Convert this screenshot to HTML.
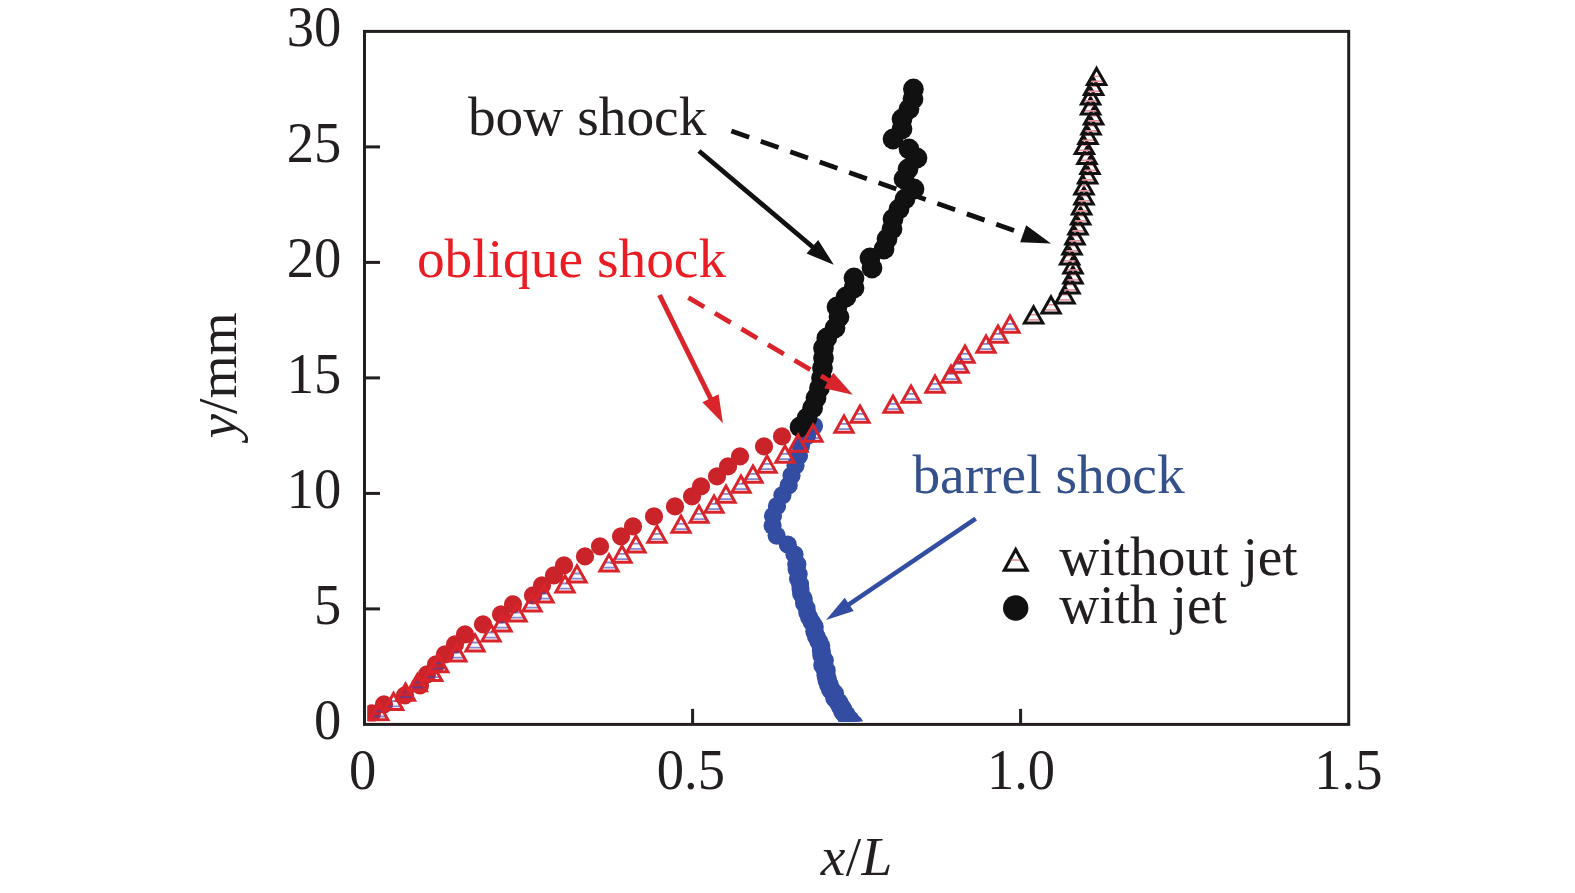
<!DOCTYPE html>
<html><head><meta charset="utf-8"><title>chart</title>
<style>
html,body{margin:0;padding:0;background:#fff;}
body{width:1575px;height:893px;position:relative;overflow:hidden;font-family:"Liberation Serif",serif;}
</style></head><body>
<svg width="1575" height="893" viewBox="0 0 1575 893" style="position:absolute;left:0;top:0"><defs><clipPath id="pcb"><rect x="367.2" y="31.4" width="981.5" height="690.2"/></clipPath><clipPath id="pc"><rect x="367.2" y="31.4" width="981.5" height="690.1"/></clipPath></defs><rect x="0" y="0" width="1575" height="893" fill="#fff"/><g clip-path="url(#pc)"><g fill="#334DA3" clip-path="url(#pcb)"><circle cx="814.0" cy="426.0" r="9.1"/><circle cx="807.0" cy="436.0" r="9.1"/><circle cx="801.0" cy="445.8" r="9.1"/><circle cx="799.0" cy="455.7" r="9.1"/><circle cx="795.5" cy="465.6" r="9.1"/><circle cx="791.5" cy="475.5" r="9.1"/><circle cx="788.7" cy="485.4" r="9.1"/><circle cx="782.4" cy="495.2" r="9.1"/><circle cx="777.0" cy="506.0" r="9.1"/><circle cx="773.0" cy="515.9" r="9.1"/><circle cx="772.6" cy="525.7" r="9.1"/><circle cx="776.6" cy="535.6" r="9.1"/><circle cx="787.8" cy="544.6" r="9.1"/><circle cx="794.5" cy="554.4" r="9.1"/><circle cx="797.3" cy="564.3" r="9.1"/><circle cx="796.2" cy="564.3" r="9.00"/><circle cx="796.6" cy="569.2" r="9.00"/><circle cx="798.7" cy="574.2" r="9.00"/><circle cx="798.0" cy="579.1" r="9.00"/><circle cx="800.1" cy="584.0" r="9.00"/><circle cx="800.5" cy="589.0" r="9.00"/><circle cx="801.1" cy="593.8" r="9.00"/><circle cx="803.7" cy="598.5" r="9.00"/><circle cx="804.0" cy="603.3" r="9.00"/><circle cx="806.6" cy="608.0" r="9.00"/><circle cx="807.3" cy="612.8" r="9.03"/><circle cx="809.2" cy="617.4" r="9.08"/><circle cx="811.8" cy="622.1" r="9.14"/><circle cx="814.6" cy="626.8" r="9.19"/><circle cx="814.5" cy="631.5" r="9.25"/><circle cx="816.2" cy="636.3" r="9.30"/><circle cx="818.6" cy="641.1" r="9.35"/><circle cx="820.9" cy="645.8" r="9.41"/><circle cx="821.3" cy="650.7" r="9.46"/><circle cx="821.8" cy="655.6" r="9.52"/><circle cx="824.3" cy="660.5" r="9.58"/><circle cx="822.9" cy="665.4" r="9.63"/><circle cx="826.0" cy="670.3" r="9.69"/><circle cx="826.1" cy="675.0" r="9.74"/><circle cx="827.2" cy="679.8" r="9.80"/><circle cx="828.7" cy="684.5" r="9.80"/><circle cx="830.7" cy="689.3" r="9.80"/><circle cx="834.3" cy="693.7" r="9.80"/><circle cx="835.0" cy="698.1" r="9.80"/><circle cx="838.5" cy="702.5" r="9.80"/><circle cx="841.0" cy="706.9" r="9.80"/><circle cx="842.9" cy="711.2" r="9.80"/><circle cx="846.1" cy="715.3" r="9.80"/><circle cx="847.7" cy="719.5" r="9.80"/><circle cx="850.1" cy="723.8" r="9.80"/><circle cx="843" cy="710" r="9.7"/><circle cx="846.5" cy="716" r="9.7"/><circle cx="850" cy="720" r="9.7"/><circle cx="853.5" cy="724" r="9.7"/></g><g fill="#CA242A"><circle cx="372" cy="713.4" r="9.1"/><circle cx="384" cy="704.4" r="9.1"/><circle cx="405" cy="695.4" r="9.1"/><circle cx="420" cy="685.4" r="9.1"/><circle cx="427" cy="674.4" r="9.1"/><circle cx="436" cy="664.4" r="9.1"/><circle cx="445" cy="654.4" r="9.1"/><circle cx="455" cy="644.4" r="9.1"/><circle cx="465" cy="634.4" r="9.1"/><circle cx="483" cy="624.4" r="9.1"/><circle cx="501" cy="614.4" r="9.1"/><circle cx="513" cy="604.4" r="9.1"/><circle cx="533" cy="595.4" r="9.1"/><circle cx="542" cy="585.4" r="9.1"/><circle cx="554" cy="575.4" r="9.1"/><circle cx="564" cy="565.4" r="9.1"/><circle cx="585" cy="556.4" r="9.1"/><circle cx="600" cy="546.4" r="9.1"/><circle cx="621" cy="536.4" r="9.1"/><circle cx="633" cy="526.4" r="9.1"/><circle cx="654" cy="516.4" r="9.1"/><circle cx="675" cy="506.4" r="9.1"/><circle cx="692" cy="496.4" r="9.1"/><circle cx="701" cy="486.4" r="9.1"/><circle cx="717" cy="476.4" r="9.1"/><circle cx="728" cy="466.4" r="9.1"/><circle cx="740" cy="456.4" r="9.1"/><circle cx="764" cy="446.4" r="9.1"/><circle cx="782" cy="436.4" r="9.1"/></g><g fill="#111111"><circle cx="913.4" cy="89" r="10.4"/><circle cx="913" cy="99" r="10.4"/><circle cx="909" cy="109" r="10.4"/><circle cx="902" cy="119" r="10.4"/><circle cx="902" cy="129" r="10.4"/><circle cx="893" cy="139" r="10.4"/><circle cx="909" cy="149" r="10.4"/><circle cx="917" cy="158" r="10.4"/><circle cx="908" cy="169" r="10.4"/><circle cx="904" cy="179" r="10.4"/><circle cx="914" cy="189" r="10.4"/><circle cx="905" cy="199" r="10.4"/><circle cx="899" cy="209" r="10.4"/><circle cx="893" cy="219" r="10.4"/><circle cx="892" cy="229" r="10.4"/><circle cx="887" cy="239" r="10.4"/><circle cx="884" cy="249" r="10.4"/><circle cx="870" cy="258" r="10.4"/><circle cx="872" cy="268" r="10.4"/><circle cx="854" cy="278" r="10.4"/><circle cx="854" cy="288" r="10.4"/><circle cx="846" cy="297" r="10.4"/><circle cx="837" cy="307" r="10.4"/><circle cx="839" cy="317" r="10.4"/><circle cx="835" cy="328" r="10.4"/><circle cx="826.8" cy="338" r="10.4"/><circle cx="823.5" cy="348" r="10.4"/><circle cx="823.5" cy="358" r="10.4"/><circle cx="822.5" cy="368" r="10.4"/><circle cx="821.5" cy="378" r="10.4"/><circle cx="819.5" cy="388" r="10.4"/><circle cx="816" cy="398" r="10.4"/><circle cx="812.6" cy="408" r="10.4"/><circle cx="807" cy="418" r="10.4"/><circle cx="800" cy="427" r="10.4"/></g><line x1="375.2" y1="711.3" x2="382.4" y2="711.3" stroke="rgba(58,68,182,0.62)" stroke-width="1.80"/><line x1="372.0" y1="716.5" x2="385.6" y2="716.5" stroke="rgba(58,68,182,0.62)" stroke-width="1.80"/><polygon points="378.8,703.5 387.9,719.7 369.7,719.7" fill="none" stroke="#DA242B" stroke-width="3.00" stroke-linejoin="miter"/><line x1="390.0" y1="701.2" x2="397.2" y2="701.2" stroke="rgba(58,68,182,0.62)" stroke-width="1.80"/><line x1="386.8" y1="706.4" x2="400.4" y2="706.4" stroke="rgba(58,68,182,0.62)" stroke-width="1.80"/><polygon points="393.6,693.4 402.8,709.6 384.5,709.6" fill="none" stroke="#DA242B" stroke-width="3.00" stroke-linejoin="miter"/><line x1="401.9" y1="691.9" x2="409.1" y2="691.9" stroke="rgba(58,68,182,0.62)" stroke-width="1.80"/><line x1="398.7" y1="697.1" x2="412.3" y2="697.1" stroke="rgba(58,68,182,0.62)" stroke-width="1.80"/><polygon points="405.5,684.1 414.6,700.3 396.4,700.3" fill="none" stroke="#DA242B" stroke-width="3.00" stroke-linejoin="miter"/><line x1="413.8" y1="682.3" x2="421.0" y2="682.3" stroke="rgba(58,68,182,0.62)" stroke-width="1.80"/><line x1="410.6" y1="687.5" x2="424.2" y2="687.5" stroke="rgba(58,68,182,0.62)" stroke-width="1.80"/><polygon points="417.4,674.5 426.5,690.7 408.2,690.7" fill="none" stroke="#DA242B" stroke-width="3.00" stroke-linejoin="miter"/><line x1="429.0" y1="672.0" x2="436.2" y2="672.0" stroke="rgba(58,68,182,0.62)" stroke-width="1.80"/><line x1="425.8" y1="677.2" x2="439.4" y2="677.2" stroke="rgba(58,68,182,0.62)" stroke-width="1.80"/><polygon points="432.6,664.2 441.8,680.4 423.5,680.4" fill="none" stroke="#DA242B" stroke-width="3.00" stroke-linejoin="miter"/><line x1="435.0" y1="663.4" x2="442.2" y2="663.4" stroke="rgba(58,68,182,0.62)" stroke-width="1.80"/><line x1="431.8" y1="668.6" x2="445.4" y2="668.6" stroke="rgba(58,68,182,0.62)" stroke-width="1.80"/><polygon points="438.6,655.6 447.8,671.8 429.5,671.8" fill="none" stroke="#DA242B" stroke-width="3.00" stroke-linejoin="miter"/><line x1="453.3" y1="652.5" x2="460.5" y2="652.5" stroke="rgba(58,68,182,0.62)" stroke-width="1.80"/><line x1="450.1" y1="657.7" x2="463.7" y2="657.7" stroke="rgba(58,68,182,0.62)" stroke-width="1.80"/><polygon points="456.9,644.7 466.0,660.9 447.8,660.9" fill="none" stroke="#DA242B" stroke-width="3.00" stroke-linejoin="miter"/><line x1="471.4" y1="642.5" x2="478.6" y2="642.5" stroke="rgba(58,68,182,0.62)" stroke-width="1.80"/><line x1="468.2" y1="647.7" x2="481.8" y2="647.7" stroke="rgba(58,68,182,0.62)" stroke-width="1.80"/><polygon points="475.0,634.7 484.1,650.9 465.9,650.9" fill="none" stroke="#DA242B" stroke-width="3.00" stroke-linejoin="miter"/><line x1="487.4" y1="632.5" x2="494.6" y2="632.5" stroke="rgba(58,68,182,0.62)" stroke-width="1.80"/><line x1="484.2" y1="637.7" x2="497.8" y2="637.7" stroke="rgba(58,68,182,0.62)" stroke-width="1.80"/><polygon points="491.0,624.7 500.1,640.9 481.9,640.9" fill="none" stroke="#DA242B" stroke-width="3.00" stroke-linejoin="miter"/><line x1="498.4" y1="622.5" x2="505.6" y2="622.5" stroke="rgba(58,68,182,0.62)" stroke-width="1.80"/><line x1="495.2" y1="627.7" x2="508.8" y2="627.7" stroke="rgba(58,68,182,0.62)" stroke-width="1.80"/><polygon points="502.0,614.7 511.1,630.9 492.9,630.9" fill="none" stroke="#DA242B" stroke-width="3.00" stroke-linejoin="miter"/><line x1="513.4" y1="612.5" x2="520.6" y2="612.5" stroke="rgba(58,68,182,0.62)" stroke-width="1.80"/><line x1="510.2" y1="617.7" x2="523.8" y2="617.7" stroke="rgba(58,68,182,0.62)" stroke-width="1.80"/><polygon points="517.0,604.7 526.1,620.9 507.9,620.9" fill="none" stroke="#DA242B" stroke-width="3.00" stroke-linejoin="miter"/><line x1="528.4" y1="602.5" x2="535.6" y2="602.5" stroke="rgba(58,68,182,0.62)" stroke-width="1.80"/><line x1="525.2" y1="607.7" x2="538.8" y2="607.7" stroke="rgba(58,68,182,0.62)" stroke-width="1.80"/><polygon points="532.0,594.7 541.1,610.9 522.9,610.9" fill="none" stroke="#DA242B" stroke-width="3.00" stroke-linejoin="miter"/><line x1="540.4" y1="593.5" x2="547.6" y2="593.5" stroke="rgba(58,68,182,0.62)" stroke-width="1.80"/><line x1="537.2" y1="598.7" x2="550.8" y2="598.7" stroke="rgba(58,68,182,0.62)" stroke-width="1.80"/><polygon points="544.0,585.7 553.1,601.9 534.9,601.9" fill="none" stroke="#DA242B" stroke-width="3.00" stroke-linejoin="miter"/><line x1="561.4" y1="583.5" x2="568.6" y2="583.5" stroke="rgba(58,68,182,0.62)" stroke-width="1.80"/><line x1="558.2" y1="588.7" x2="571.8" y2="588.7" stroke="rgba(58,68,182,0.62)" stroke-width="1.80"/><polygon points="565.0,575.7 574.1,591.9 555.9,591.9" fill="none" stroke="#DA242B" stroke-width="3.00" stroke-linejoin="miter"/><line x1="573.4" y1="573.5" x2="580.6" y2="573.5" stroke="rgba(58,68,182,0.62)" stroke-width="1.80"/><line x1="570.2" y1="578.7" x2="583.8" y2="578.7" stroke="rgba(58,68,182,0.62)" stroke-width="1.80"/><polygon points="577.0,565.7 586.1,581.9 567.9,581.9" fill="none" stroke="#DA242B" stroke-width="3.00" stroke-linejoin="miter"/><line x1="605.4" y1="562.5" x2="612.6" y2="562.5" stroke="rgba(58,68,182,0.62)" stroke-width="1.80"/><line x1="602.2" y1="567.7" x2="615.8" y2="567.7" stroke="rgba(58,68,182,0.62)" stroke-width="1.80"/><polygon points="609.0,554.7 618.1,570.9 599.9,570.9" fill="none" stroke="#DA242B" stroke-width="3.00" stroke-linejoin="miter"/><line x1="618.4" y1="553.9" x2="625.6" y2="553.9" stroke="rgba(58,68,182,0.62)" stroke-width="1.80"/><line x1="615.2" y1="559.1" x2="628.8" y2="559.1" stroke="rgba(58,68,182,0.62)" stroke-width="1.80"/><polygon points="622.0,546.1 631.1,562.3 612.9,562.3" fill="none" stroke="#DA242B" stroke-width="3.00" stroke-linejoin="miter"/><line x1="632.4" y1="543.7" x2="639.6" y2="543.7" stroke="rgba(58,68,182,0.62)" stroke-width="1.80"/><line x1="629.2" y1="548.9" x2="642.8" y2="548.9" stroke="rgba(58,68,182,0.62)" stroke-width="1.80"/><polygon points="636.0,535.9 645.1,552.1 626.9,552.1" fill="none" stroke="#DA242B" stroke-width="3.00" stroke-linejoin="miter"/><line x1="653.4" y1="533.9" x2="660.6" y2="533.9" stroke="rgba(58,68,182,0.62)" stroke-width="1.80"/><line x1="650.2" y1="539.1" x2="663.8" y2="539.1" stroke="rgba(58,68,182,0.62)" stroke-width="1.80"/><polygon points="657.0,526.1 666.1,542.3 647.9,542.3" fill="none" stroke="#DA242B" stroke-width="3.00" stroke-linejoin="miter"/><line x1="677.4" y1="523.9" x2="684.6" y2="523.9" stroke="rgba(58,68,182,0.62)" stroke-width="1.80"/><line x1="674.2" y1="529.1" x2="687.8" y2="529.1" stroke="rgba(58,68,182,0.62)" stroke-width="1.80"/><polygon points="681.0,516.1 690.1,532.3 671.9,532.3" fill="none" stroke="#DA242B" stroke-width="3.00" stroke-linejoin="miter"/><line x1="695.4" y1="513.9" x2="702.6" y2="513.9" stroke="rgba(58,68,182,0.62)" stroke-width="1.80"/><line x1="692.2" y1="519.1" x2="705.8" y2="519.1" stroke="rgba(58,68,182,0.62)" stroke-width="1.80"/><polygon points="699.0,506.1 708.1,522.3 689.9,522.3" fill="none" stroke="#DA242B" stroke-width="3.00" stroke-linejoin="miter"/><line x1="710.4" y1="503.9" x2="717.6" y2="503.9" stroke="rgba(58,68,182,0.62)" stroke-width="1.80"/><line x1="707.2" y1="509.1" x2="720.8" y2="509.1" stroke="rgba(58,68,182,0.62)" stroke-width="1.80"/><polygon points="714.0,496.1 723.1,512.3 704.9,512.3" fill="none" stroke="#DA242B" stroke-width="3.00" stroke-linejoin="miter"/><line x1="722.4" y1="493.9" x2="729.6" y2="493.9" stroke="rgba(58,68,182,0.62)" stroke-width="1.80"/><line x1="719.2" y1="499.1" x2="732.8" y2="499.1" stroke="rgba(58,68,182,0.62)" stroke-width="1.80"/><polygon points="726.0,486.1 735.1,502.3 716.9,502.3" fill="none" stroke="#DA242B" stroke-width="3.00" stroke-linejoin="miter"/><line x1="737.4" y1="483.9" x2="744.6" y2="483.9" stroke="rgba(58,68,182,0.62)" stroke-width="1.80"/><line x1="734.2" y1="489.1" x2="747.8" y2="489.1" stroke="rgba(58,68,182,0.62)" stroke-width="1.80"/><polygon points="741.0,476.1 750.1,492.3 731.9,492.3" fill="none" stroke="#DA242B" stroke-width="3.00" stroke-linejoin="miter"/><line x1="749.4" y1="473.9" x2="756.6" y2="473.9" stroke="rgba(58,68,182,0.62)" stroke-width="1.80"/><line x1="746.2" y1="479.1" x2="759.8" y2="479.1" stroke="rgba(58,68,182,0.62)" stroke-width="1.80"/><polygon points="753.0,466.1 762.1,482.3 743.9,482.3" fill="none" stroke="#DA242B" stroke-width="3.00" stroke-linejoin="miter"/><line x1="763.4" y1="463.9" x2="770.6" y2="463.9" stroke="rgba(58,68,182,0.62)" stroke-width="1.80"/><line x1="760.2" y1="469.1" x2="773.8" y2="469.1" stroke="rgba(58,68,182,0.62)" stroke-width="1.80"/><polygon points="767.0,456.1 776.1,472.3 757.9,472.3" fill="none" stroke="#DA242B" stroke-width="3.00" stroke-linejoin="miter"/><line x1="781.4" y1="453.9" x2="788.6" y2="453.9" stroke="rgba(58,68,182,0.62)" stroke-width="1.80"/><line x1="778.2" y1="459.1" x2="791.8" y2="459.1" stroke="rgba(58,68,182,0.62)" stroke-width="1.80"/><polygon points="785.0,446.1 794.1,462.3 775.9,462.3" fill="none" stroke="#DA242B" stroke-width="3.00" stroke-linejoin="miter"/><line x1="794.4" y1="442.9" x2="801.6" y2="442.9" stroke="rgba(58,68,182,0.62)" stroke-width="1.80"/><line x1="791.2" y1="448.1" x2="804.8" y2="448.1" stroke="rgba(58,68,182,0.62)" stroke-width="1.80"/><polygon points="798.0,435.1 807.1,451.3 788.9,451.3" fill="none" stroke="#DA242B" stroke-width="3.00" stroke-linejoin="miter"/><line x1="809.4" y1="432.9" x2="816.6" y2="432.9" stroke="rgba(58,68,182,0.62)" stroke-width="1.80"/><line x1="806.2" y1="438.1" x2="819.8" y2="438.1" stroke="rgba(58,68,182,0.62)" stroke-width="1.80"/><polygon points="813.0,425.1 822.1,441.3 803.9,441.3" fill="none" stroke="#DA242B" stroke-width="3.00" stroke-linejoin="miter"/><line x1="840.4" y1="423.9" x2="847.6" y2="423.9" stroke="rgba(58,68,182,0.62)" stroke-width="1.80"/><line x1="837.2" y1="429.1" x2="850.8" y2="429.1" stroke="rgba(58,68,182,0.62)" stroke-width="1.80"/><polygon points="844.0,416.1 853.1,432.3 834.9,432.3" fill="none" stroke="#DA242B" stroke-width="3.00" stroke-linejoin="miter"/><line x1="856.4" y1="413.9" x2="863.6" y2="413.9" stroke="rgba(58,68,182,0.62)" stroke-width="1.80"/><line x1="853.2" y1="419.1" x2="866.8" y2="419.1" stroke="rgba(58,68,182,0.62)" stroke-width="1.80"/><polygon points="860.0,406.1 869.1,422.3 850.9,422.3" fill="none" stroke="#DA242B" stroke-width="3.00" stroke-linejoin="miter"/><line x1="889.4" y1="403.9" x2="896.6" y2="403.9" stroke="rgba(58,68,182,0.62)" stroke-width="1.80"/><line x1="886.2" y1="409.1" x2="899.8" y2="409.1" stroke="rgba(58,68,182,0.62)" stroke-width="1.80"/><polygon points="893.0,396.1 902.1,412.3 883.9,412.3" fill="none" stroke="#DA242B" stroke-width="3.00" stroke-linejoin="miter"/><line x1="907.4" y1="393.9" x2="914.6" y2="393.9" stroke="rgba(58,68,182,0.62)" stroke-width="1.80"/><line x1="904.2" y1="399.1" x2="917.8" y2="399.1" stroke="rgba(58,68,182,0.62)" stroke-width="1.80"/><polygon points="911.0,386.1 920.1,402.3 901.9,402.3" fill="none" stroke="#DA242B" stroke-width="3.00" stroke-linejoin="miter"/><line x1="931.4" y1="383.9" x2="938.6" y2="383.9" stroke="rgba(58,68,182,0.62)" stroke-width="1.80"/><line x1="928.2" y1="389.1" x2="941.8" y2="389.1" stroke="rgba(58,68,182,0.62)" stroke-width="1.80"/><polygon points="935.0,376.1 944.1,392.3 925.9,392.3" fill="none" stroke="#DA242B" stroke-width="3.00" stroke-linejoin="miter"/><line x1="947.4" y1="373.9" x2="954.6" y2="373.9" stroke="rgba(58,68,182,0.62)" stroke-width="1.80"/><line x1="944.2" y1="379.1" x2="957.8" y2="379.1" stroke="rgba(58,68,182,0.62)" stroke-width="1.80"/><polygon points="951.0,366.1 960.1,382.3 941.9,382.3" fill="none" stroke="#DA242B" stroke-width="3.00" stroke-linejoin="miter"/><line x1="955.4" y1="363.9" x2="962.6" y2="363.9" stroke="rgba(58,68,182,0.62)" stroke-width="1.80"/><line x1="952.2" y1="369.1" x2="965.8" y2="369.1" stroke="rgba(58,68,182,0.62)" stroke-width="1.80"/><polygon points="959.0,356.1 968.1,372.3 949.9,372.3" fill="none" stroke="#DA242B" stroke-width="3.00" stroke-linejoin="miter"/><line x1="961.4" y1="353.9" x2="968.6" y2="353.9" stroke="rgba(58,68,182,0.62)" stroke-width="1.80"/><line x1="958.2" y1="359.1" x2="971.8" y2="359.1" stroke="rgba(58,68,182,0.62)" stroke-width="1.80"/><polygon points="965.0,346.1 974.1,362.3 955.9,362.3" fill="none" stroke="#DA242B" stroke-width="3.00" stroke-linejoin="miter"/><line x1="982.4" y1="343.9" x2="989.6" y2="343.9" stroke="rgba(58,68,182,0.62)" stroke-width="1.80"/><line x1="979.2" y1="349.1" x2="992.8" y2="349.1" stroke="rgba(58,68,182,0.62)" stroke-width="1.80"/><polygon points="986.0,336.1 995.1,352.3 976.9,352.3" fill="none" stroke="#DA242B" stroke-width="3.00" stroke-linejoin="miter"/><line x1="994.4" y1="333.9" x2="1001.6" y2="333.9" stroke="rgba(58,68,182,0.62)" stroke-width="1.80"/><line x1="991.2" y1="339.1" x2="1004.8" y2="339.1" stroke="rgba(58,68,182,0.62)" stroke-width="1.80"/><polygon points="998.0,326.1 1007.1,342.3 988.9,342.3" fill="none" stroke="#DA242B" stroke-width="3.00" stroke-linejoin="miter"/><line x1="1006.4" y1="323.9" x2="1013.6" y2="323.9" stroke="rgba(58,68,182,0.62)" stroke-width="1.80"/><line x1="1003.2" y1="329.1" x2="1016.8" y2="329.1" stroke="rgba(58,68,182,0.62)" stroke-width="1.80"/><polygon points="1010.0,316.1 1019.1,332.3 1000.9,332.3" fill="none" stroke="#DA242B" stroke-width="3.00" stroke-linejoin="miter"/><line x1="1030.0" y1="314.7" x2="1037.2" y2="314.7" stroke="#E7939C" stroke-width="1.60"/><line x1="1026.8" y1="319.9" x2="1040.4" y2="319.9" stroke="#E7939C" stroke-width="1.60"/><polygon points="1033.6,306.9 1042.8,323.1 1024.4,323.1" fill="none" stroke="#111111" stroke-width="3.00" stroke-linejoin="miter"/><line x1="1047.4" y1="304.7" x2="1054.6" y2="304.7" stroke="#E7939C" stroke-width="1.60"/><line x1="1044.2" y1="309.9" x2="1057.8" y2="309.9" stroke="#E7939C" stroke-width="1.60"/><polygon points="1051.0,296.9 1060.2,313.1 1041.8,313.1" fill="none" stroke="#111111" stroke-width="3.00" stroke-linejoin="miter"/><line x1="1061.4" y1="294.7" x2="1068.6" y2="294.7" stroke="#E7939C" stroke-width="1.60"/><line x1="1058.2" y1="299.9" x2="1071.8" y2="299.9" stroke="#E7939C" stroke-width="1.60"/><polygon points="1065.0,286.9 1074.2,303.1 1055.8,303.1" fill="none" stroke="#111111" stroke-width="3.00" stroke-linejoin="miter"/><line x1="1066.4" y1="284.7" x2="1073.6" y2="284.7" stroke="#E7939C" stroke-width="1.60"/><line x1="1063.2" y1="289.9" x2="1076.8" y2="289.9" stroke="#E7939C" stroke-width="1.60"/><polygon points="1070.0,276.9 1079.2,293.1 1060.8,293.1" fill="none" stroke="#111111" stroke-width="3.00" stroke-linejoin="miter"/><line x1="1069.4" y1="274.7" x2="1076.6" y2="274.7" stroke="#E7939C" stroke-width="1.60"/><line x1="1066.2" y1="279.9" x2="1079.8" y2="279.9" stroke="#E7939C" stroke-width="1.60"/><polygon points="1073.0,266.9 1082.2,283.1 1063.8,283.1" fill="none" stroke="#111111" stroke-width="3.00" stroke-linejoin="miter"/><line x1="1069.4" y1="264.7" x2="1076.6" y2="264.7" stroke="#E7939C" stroke-width="1.60"/><line x1="1066.2" y1="269.9" x2="1079.8" y2="269.9" stroke="#E7939C" stroke-width="1.60"/><polygon points="1073.0,256.9 1082.2,273.1 1063.8,273.1" fill="none" stroke="#111111" stroke-width="3.00" stroke-linejoin="miter"/><line x1="1066.0" y1="255.7" x2="1073.2" y2="255.7" stroke="#E7939C" stroke-width="1.60"/><line x1="1062.8" y1="260.9" x2="1076.4" y2="260.9" stroke="#E7939C" stroke-width="1.60"/><polygon points="1069.6,247.9 1078.8,264.1 1060.4,264.1" fill="none" stroke="#111111" stroke-width="3.00" stroke-linejoin="miter"/><line x1="1068.4" y1="245.7" x2="1075.6" y2="245.7" stroke="#E7939C" stroke-width="1.60"/><line x1="1065.2" y1="250.9" x2="1078.8" y2="250.9" stroke="#E7939C" stroke-width="1.60"/><polygon points="1072.0,237.9 1081.2,254.1 1062.8,254.1" fill="none" stroke="#111111" stroke-width="3.00" stroke-linejoin="miter"/><line x1="1071.4" y1="235.7" x2="1078.6" y2="235.7" stroke="#E7939C" stroke-width="1.60"/><line x1="1068.2" y1="240.9" x2="1081.8" y2="240.9" stroke="#E7939C" stroke-width="1.60"/><polygon points="1075.0,227.9 1084.2,244.1 1065.8,244.1" fill="none" stroke="#111111" stroke-width="3.00" stroke-linejoin="miter"/><line x1="1074.4" y1="225.7" x2="1081.6" y2="225.7" stroke="#E7939C" stroke-width="1.60"/><line x1="1071.2" y1="230.9" x2="1084.8" y2="230.9" stroke="#E7939C" stroke-width="1.60"/><polygon points="1078.0,217.9 1087.2,234.1 1068.8,234.1" fill="none" stroke="#111111" stroke-width="3.00" stroke-linejoin="miter"/><line x1="1077.0" y1="215.7" x2="1084.2" y2="215.7" stroke="#E7939C" stroke-width="1.60"/><line x1="1073.8" y1="220.9" x2="1087.4" y2="220.9" stroke="#E7939C" stroke-width="1.60"/><polygon points="1080.6,207.9 1089.8,224.1 1071.4,224.1" fill="none" stroke="#111111" stroke-width="3.00" stroke-linejoin="miter"/><line x1="1078.0" y1="205.7" x2="1085.2" y2="205.7" stroke="#E7939C" stroke-width="1.60"/><line x1="1074.8" y1="210.9" x2="1088.4" y2="210.9" stroke="#E7939C" stroke-width="1.60"/><polygon points="1081.6,197.9 1090.8,214.1 1072.4,214.1" fill="none" stroke="#111111" stroke-width="3.00" stroke-linejoin="miter"/><line x1="1080.4" y1="195.7" x2="1087.6" y2="195.7" stroke="#E7939C" stroke-width="1.60"/><line x1="1077.2" y1="200.9" x2="1090.8" y2="200.9" stroke="#E7939C" stroke-width="1.60"/><polygon points="1084.0,187.9 1093.2,204.1 1074.8,204.1" fill="none" stroke="#111111" stroke-width="3.00" stroke-linejoin="miter"/><line x1="1080.4" y1="185.7" x2="1087.6" y2="185.7" stroke="#E7939C" stroke-width="1.60"/><line x1="1077.2" y1="190.9" x2="1090.8" y2="190.9" stroke="#E7939C" stroke-width="1.60"/><polygon points="1084.0,177.9 1093.2,194.1 1074.8,194.1" fill="none" stroke="#111111" stroke-width="3.00" stroke-linejoin="miter"/><line x1="1084.0" y1="174.7" x2="1091.2" y2="174.7" stroke="#E7939C" stroke-width="1.60"/><line x1="1080.8" y1="179.9" x2="1094.4" y2="179.9" stroke="#E7939C" stroke-width="1.60"/><polygon points="1087.6,166.9 1096.8,183.1 1078.4,183.1" fill="none" stroke="#111111" stroke-width="3.00" stroke-linejoin="miter"/><line x1="1086.4" y1="165.2" x2="1093.6" y2="165.2" stroke="#E7939C" stroke-width="1.60"/><line x1="1083.2" y1="170.4" x2="1096.8" y2="170.4" stroke="#E7939C" stroke-width="1.60"/><polygon points="1090.0,157.4 1099.2,173.6 1080.8,173.6" fill="none" stroke="#111111" stroke-width="3.00" stroke-linejoin="miter"/><line x1="1083.4" y1="155.2" x2="1090.6" y2="155.2" stroke="#E7939C" stroke-width="1.60"/><line x1="1080.2" y1="160.4" x2="1093.8" y2="160.4" stroke="#E7939C" stroke-width="1.60"/><polygon points="1087.0,147.4 1096.2,163.6 1077.8,163.6" fill="none" stroke="#111111" stroke-width="3.00" stroke-linejoin="miter"/><line x1="1080.8" y1="145.2" x2="1088.0" y2="145.2" stroke="#E7939C" stroke-width="1.60"/><line x1="1077.6" y1="150.4" x2="1091.2" y2="150.4" stroke="#E7939C" stroke-width="1.60"/><polygon points="1084.4,137.4 1093.6,153.6 1075.2,153.6" fill="none" stroke="#111111" stroke-width="3.00" stroke-linejoin="miter"/><line x1="1084.4" y1="135.2" x2="1091.6" y2="135.2" stroke="#E7939C" stroke-width="1.60"/><line x1="1081.2" y1="140.4" x2="1094.8" y2="140.4" stroke="#E7939C" stroke-width="1.60"/><polygon points="1088.0,127.4 1097.2,143.6 1078.8,143.6" fill="none" stroke="#111111" stroke-width="3.00" stroke-linejoin="miter"/><line x1="1087.4" y1="125.7" x2="1094.6" y2="125.7" stroke="#E7939C" stroke-width="1.60"/><line x1="1084.2" y1="130.9" x2="1097.8" y2="130.9" stroke="#E7939C" stroke-width="1.60"/><polygon points="1091.0,117.9 1100.2,134.1 1081.8,134.1" fill="none" stroke="#111111" stroke-width="3.00" stroke-linejoin="miter"/><line x1="1090.0" y1="115.7" x2="1097.2" y2="115.7" stroke="#E7939C" stroke-width="1.60"/><line x1="1086.8" y1="120.9" x2="1100.4" y2="120.9" stroke="#E7939C" stroke-width="1.60"/><polygon points="1093.6,107.9 1102.8,124.1 1084.4,124.1" fill="none" stroke="#111111" stroke-width="3.00" stroke-linejoin="miter"/><line x1="1087.0" y1="105.7" x2="1094.2" y2="105.7" stroke="#E7939C" stroke-width="1.60"/><line x1="1083.8" y1="110.9" x2="1097.4" y2="110.9" stroke="#E7939C" stroke-width="1.60"/><polygon points="1090.6,97.9 1099.8,114.1 1081.4,114.1" fill="none" stroke="#111111" stroke-width="3.00" stroke-linejoin="miter"/><line x1="1087.0" y1="95.7" x2="1094.2" y2="95.7" stroke="#E7939C" stroke-width="1.60"/><line x1="1083.8" y1="100.9" x2="1097.4" y2="100.9" stroke="#E7939C" stroke-width="1.60"/><polygon points="1090.6,87.9 1099.8,104.1 1081.4,104.1" fill="none" stroke="#111111" stroke-width="3.00" stroke-linejoin="miter"/><line x1="1090.0" y1="86.2" x2="1097.2" y2="86.2" stroke="#E7939C" stroke-width="1.60"/><line x1="1086.8" y1="91.4" x2="1100.4" y2="91.4" stroke="#E7939C" stroke-width="1.60"/><polygon points="1093.6,78.4 1102.8,94.6 1084.4,94.6" fill="none" stroke="#111111" stroke-width="3.00" stroke-linejoin="miter"/><line x1="1093.0" y1="76.2" x2="1100.2" y2="76.2" stroke="#E7939C" stroke-width="1.60"/><line x1="1089.8" y1="81.4" x2="1103.4" y2="81.4" stroke="#E7939C" stroke-width="1.60"/><polygon points="1096.6,68.4 1105.8,84.6 1087.4,84.6" fill="none" stroke="#111111" stroke-width="3.00" stroke-linejoin="miter"/></g><rect x="364.5" y="31.4" width="984.2" height="693.0" fill="none" stroke="#231F20" stroke-width="3"/><line x1="364.5" y1="608.9" x2="380.0" y2="608.9" stroke="#231F20" stroke-width="3"/><line x1="364.5" y1="493.4" x2="380.0" y2="493.4" stroke="#231F20" stroke-width="3"/><line x1="364.5" y1="377.9" x2="380.0" y2="377.9" stroke="#231F20" stroke-width="3"/><line x1="364.5" y1="262.4" x2="380.0" y2="262.4" stroke="#231F20" stroke-width="3"/><line x1="364.5" y1="146.9" x2="380.0" y2="146.9" stroke="#231F20" stroke-width="3"/><line x1="692.6" y1="724.4" x2="692.6" y2="708.9" stroke="#231F20" stroke-width="3"/><line x1="1020.6" y1="724.4" x2="1020.6" y2="708.9" stroke="#231F20" stroke-width="3"/><line x1="699.0" y1="151.0" x2="813.9" y2="248.0" stroke="#111111" stroke-width="4.8"/><polygon points="833.8,264.8 806.6,253.6 818.2,239.9" fill="#111111"/><line x1="731.4" y1="131.0" x2="1025.1" y2="234.4" stroke="#111111" stroke-width="4.8" stroke-dasharray="18.8 12.4"/><polygon points="1051.0,243.5 1020.2,242.2 1026.2,225.2" fill="#111111"/><line x1="659.5" y1="295.0" x2="711.4" y2="400.0" stroke="#DA242B" stroke-width="5.0"/><polygon points="722.9,423.3 702.4,402.2 718.6,394.2" fill="#DA242B"/><line x1="688.4" y1="297.6" x2="830.4" y2="381.5" stroke="#DA242B" stroke-width="4.8" stroke-dasharray="18.4 12.4"/><polygon points="852.8,394.7 824.1,388.2 833.3,372.7" fill="#DA242B"/><line x1="975.7" y1="518.6" x2="847.5" y2="605.4" stroke="#334DA3" stroke-width="4.6"/><polygon points="826.0,620.0 844.7,597.7 853.7,610.9" fill="#334DA3"/><polygon points="1015.7,549.6 1027,570.1 1004.4,570.1" fill="none" stroke="#111111" stroke-width="3.2" stroke-linejoin="miter"/><line x1="1010.5" y1="560" x2="1020.5" y2="560" stroke="#D5565C" stroke-width="1"/><circle cx="1015.7" cy="608.0" r="12.7" fill="#111111"/><g font-family="'Liberation Serif', serif" font-size="55.4px"><text transform="translate(341.3,739.0) scale(0.985,1.03)" fill="#231F20" text-anchor="end">0</text><text transform="translate(341.3,623.5) scale(0.985,1.03)" fill="#231F20" text-anchor="end">5</text><text transform="translate(341.3,508.0) scale(0.985,1.03)" fill="#231F20" text-anchor="end">10</text><text transform="translate(341.3,392.5) scale(0.985,1.03)" fill="#231F20" text-anchor="end">15</text><text transform="translate(341.3,277.0) scale(0.985,1.03)" fill="#231F20" text-anchor="end">20</text><text transform="translate(341.3,161.5) scale(0.985,1.03)" fill="#231F20" text-anchor="end">25</text><text transform="translate(341.3,46.0) scale(0.985,1.03)" fill="#231F20" text-anchor="end">30</text><text transform="translate(362.7,788.7) scale(0.985,1.03)" fill="#231F20" text-anchor="middle">0</text><text transform="translate(690.8,788.7) scale(0.985,1.03)" fill="#231F20" text-anchor="middle">0.5</text><text transform="translate(1021.0,788.7) scale(0.985,1.03)" fill="#231F20" text-anchor="middle">1.0</text><text transform="translate(1348.4,788.7) scale(0.985,1.03)" fill="#231F20" text-anchor="middle">1.5</text><text x="467.9" y="135.3" fill="#231F20" text-anchor="start" >bow shock</text><text x="416.9" y="277.1" fill="#EA1D25" text-anchor="start" >oblique shock</text><text x="912.4" y="492.5" fill="#35518B" text-anchor="start" >barrel shock</text><text x="1059.3" y="574.8" fill="#231F20" text-anchor="start" >without jet</text><text x="1059.3" y="622.8" fill="#231F20" text-anchor="start" >with jet</text><text x="856.5" y="874.6" fill="#231F20" text-anchor="middle" ><tspan font-style="italic">x</tspan><tspan dx="0.5">/</tspan><tspan font-style="italic" dx="0.3">L</tspan></text><text transform="translate(236.4,375.4) rotate(-90)" fill="#231F20" text-anchor="middle"><tspan font-style="italic">y</tspan>/mm</text></g></svg>
</body></html>
